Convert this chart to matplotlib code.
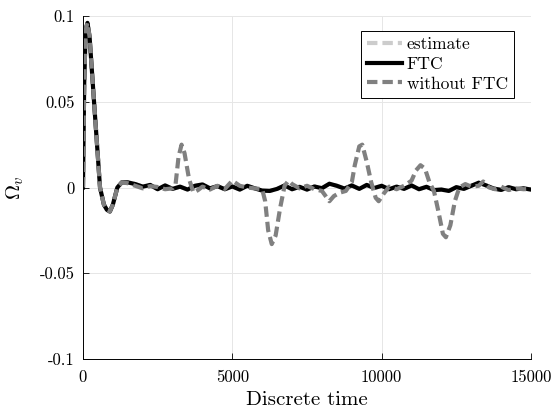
import numpy as np
import matplotlib
matplotlib.use("Agg")
import matplotlib.pyplot as plt

plt.rcParams['font.family'] = 'cmr10'
plt.rcParams['mathtext.fontset'] = 'cm'
plt.rcParams['axes.unicode_minus'] = False
plt.rcParams['axes.formatter.use_mathtext'] = True

# transient shared by all three signals
t_start = [0, 40, 90, 150, 220, 370, 570, 700, 800, 900, 1000, 1150, 1300]
v_start = [0.0, 0.06, 0.092, 0.096, 0.088, 0.05, 0.0, -0.010, -0.013, -0.014, -0.010, 0.0, 0.003]

# FTC, after the transient
t_ftc_tail = list(range(1500, 15001, 250))
v_ftc_tail = [0.0030, 0.0020, 0.0005, 0.0015, -0.0010, 0.0012, -0.0008, 0.0005, -0.0012, 0.0010,
              0.0018, -0.0005, 0.0008, -0.0010, 0.0006, -0.0012, 0.0010, -0.0005, -0.0018, -0.0020,
              -0.0008, 0.0012, -0.0010, 0.0004, -0.0012, 0.0006, -0.0004, 0.0022, 0.0010, -0.0006,
              0.0012, -0.0008, 0.0015, -0.0003, 0.0010, -0.0010, 0.0005, -0.0008, 0.0012, -0.0010,
              0.0004, -0.0015, -0.0012, -0.0020, 0.0002, -0.0008, 0.0010, 0.0028, 0.0012, -0.0006,
              -0.0014, 0.0002, -0.0010, -0.0005, -0.0012]

# without FTC, after the transient
t_wo_tail = [1500, 1750, 2000, 2250, 2500, 2750, 3000, 3100, 3200, 3300, 3400, 3550, 3700, 3850,
             4000, 4250, 4500, 4750, 5000, 5250, 5500, 5750, 6000, 6100, 6200, 6320, 6450, 6600,
             6750, 6880, 7000, 7250, 7500, 7750, 8000, 8250, 8400, 8600, 8800, 9000, 9100, 9250,
             9350, 9500, 9650, 9800, 9900, 10050, 10250, 10500, 10750, 11000, 11150, 11300, 11450,
             11600, 11750, 11900, 12050, 12150, 12300, 12450, 12600, 12800, 13000, 13250, 13400,
             13600, 13800, 14000, 14250, 14500, 14750, 15000]
v_wo_tail = [0.0025, 0.0010, -0.0005, 0.0008, 0.0003, -0.0010, -0.0005, 0.002, 0.018, 0.025,
             0.020, 0.005, -0.003, -0.0015, 0.0005, -0.0012, 0.001, -0.0008, 0.004, 0.001,
             0.0, -0.0005, -0.001, -0.008, -0.025, -0.033, -0.028, -0.012, 0.001, 0.004,
             0.002, -0.0005, 0.001, -0.001, -0.002, -0.008, -0.005, -0.003, -0.002, 0.003,
             0.013, 0.024, 0.025, 0.015, 0.003, -0.006, -0.008, -0.004, 0.0005, -0.001,
             0.001, 0.004, 0.010, 0.013, 0.011, 0.003, -0.002, -0.014, -0.027, -0.029,
             -0.022, -0.008, 0.0, 0.002, 0.0005, 0.001, 0.0035, 0.0, -0.001, 0.0005,
             -0.0015, -0.0005, -0.001, -0.0008]

t_ftc = t_start + t_ftc_tail
v_ftc = v_start + v_ftc_tail
t_wo = t_start + t_wo_tail
v_wo = v_start + v_wo_tail
# estimate follows the FTC signal
t_est = t_ftc
v_est = v_ftc

xticks = [0, 5000, 10000, 15000]
yticks = [-0.1, -0.05, 0, 0.05, 0.1]
ytick_labels = ['-0.1', '-0.05', '0', '0.05', '0.1']

fig = plt.figure(figsize=(5.54, 4.16), dpi=100)
ax = fig.add_axes([0.1498, 0.137, 0.8087, 0.8245])

ax.plot(t_est, v_est, color=(0.8, 0.8, 0.8), lw=3, dashes=(2.5, 1.2), label='estimate')
ax.plot(t_ftc, v_ftc, color='black', lw=3, label='FTC')
ax.plot(t_wo, v_wo, color=(0.5, 0.5, 0.5), lw=3, dashes=(2.5, 1.2), label='without FTC')

ax.set_xlim(0, 15000)
ax.set_ylim(-0.1, 0.1)
ax.set_xticks(xticks)
ax.set_xticklabels([str(x) for x in xticks])
ax.set_yticks(yticks)
ax.set_yticklabels(ytick_labels)
ax.tick_params(direction='in', length=4, width=0.6, labelsize=12, top=False, right=False)
ax.tick_params(axis='x', pad=8)
ax.tick_params(axis='y', pad=6)
ax.grid(True, color='#e6e6e6', lw=0.7)
ax.set_axisbelow(True)
for s in ['top', 'right']:
    ax.spines[s].set_visible(False)
for s in ['left', 'bottom']:
    ax.spines[s].set_linewidth(0.7)

ax.set_xlabel('Discrete time', fontsize=15, labelpad=4)
ax.set_ylabel(r'$\Omega_v$', fontsize=15, labelpad=10)

leg = ax.legend(loc='upper right', bbox_to_anchor=(0.962, 0.957), fancybox=False, framealpha=1,
                edgecolor='black', fontsize=12.5, handlelength=2.0, handletextpad=0.3,
                borderpad=0.35, labelspacing=0.25, borderaxespad=0)
leg.get_frame().set_linewidth(0.7)

fig.savefig('out.png', dpi=100)
